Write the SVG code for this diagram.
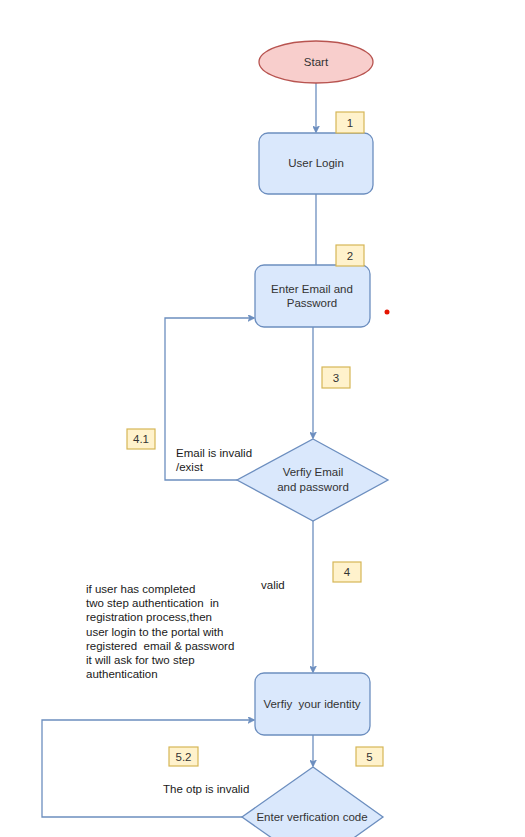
<svg xmlns="http://www.w3.org/2000/svg" width="525" height="837" viewBox="0 0 525 837">
  <style>
    text { font-family: "Liberation Sans", Arial, Helvetica, sans-serif; font-size: 11.5px; fill: #1a1a1a; white-space: pre; }
    .c { text-anchor: middle; fill: #333333; }
    .proc { fill: #dae8fc; stroke: #6c8ebf; stroke-width: 1.3; }
    .term { fill: #f8cecc; stroke: #b85450; stroke-width: 1.3; }
    .tag { fill: #fff2cc; stroke: #d6b656; stroke-width: 1.2; }
    .edge { fill: none; stroke: #6c8ebf; stroke-width: 1.3; }
  </style>
  <defs>
    <marker id="arrow" viewBox="0 0 10 10" refX="9" refY="5" markerWidth="7" markerHeight="7" orient="auto" markerUnits="userSpaceOnUse">
      <path d="M0,0 L10,5 L0,10 L3,5 Z" fill="#6c8ebf" stroke="#6c8ebf" stroke-width="1"/>
    </marker>
  </defs>
  <rect width="525" height="837" fill="#ffffff"/>

  <g id="connectors">
    <path class="edge" d="M316,83 L316,132" marker-end="url(#arrow)"/>
    <path class="edge" d="M316,194 L316,265"/>
    <path class="edge" d="M313,327 L313,438" marker-end="url(#arrow)"/>
    <path class="edge" d="M237,480 L165,480 L165,318 L254,318" marker-end="url(#arrow)"/>
    <path class="edge" d="M313,521 L313,672" marker-end="url(#arrow)"/>
    <path class="edge" d="M313,735 L313,766" marker-end="url(#arrow)"/>
    <path class="edge" d="M242,817 L42,817 L42,720 L254,720" marker-end="url(#arrow)"/>
  </g>

  <g id="start">
    <ellipse class="term" cx="316" cy="62" rx="57" ry="21"/>
    <text class="c" x="316" y="66">Start</text>
  </g>

  <g id="user-login">
    <rect class="proc" x="259" y="133" width="114" height="61" rx="9"/>
    <text class="c" x="316" y="167">User Login</text>
  </g>

  <g id="enter-email">
    <rect class="proc" x="255" y="265" width="115" height="62" rx="9"/>
    <text class="c" x="312" y="293">Enter Email and</text>
    <text class="c" x="312" y="307">Password</text>
  </g>

  <g id="verify-email">
    <polygon class="proc" points="313,439 388,480 313,521 237,480"/>
    <text class="c" x="313" y="476">Verfiy Email</text>
    <text class="c" x="313" y="491">and password</text>
  </g>

  <g id="verify-identity">
    <rect class="proc" x="255" y="673" width="115" height="62" rx="9"/>
    <text class="c" x="312" y="708">Verfiy  your identity</text>
  </g>

  <g id="enter-code">
    <polygon class="proc" points="313,767 383,817 313,867 242,817"/>
    <text class="c" x="312" y="821">Enter verfication code</text>
  </g>

  <g id="step-1">
    <rect class="tag" x="336" y="112" width="28" height="21"/>
    <text class="c" x="350" y="127">1</text>
  </g>
  <g id="step-2">
    <rect class="tag" x="336" y="245" width="28" height="21"/>
    <text class="c" x="350" y="260">2</text>
  </g>
  <g id="step-3">
    <rect class="tag" x="322" y="367" width="28" height="21"/>
    <text class="c" x="336" y="382">3</text>
  </g>
  <g id="step-4-1">
    <rect class="tag" x="127" y="429" width="28" height="20"/>
    <text class="c" x="141" y="443">4.1</text>
  </g>
  <g id="step-4">
    <rect class="tag" x="333" y="562" width="28" height="20"/>
    <text class="c" x="347" y="576">4</text>
  </g>
  <g id="step-5-2">
    <rect class="tag" x="169" y="747" width="29" height="19"/>
    <text class="c" x="183.5" y="761">5.2</text>
  </g>
  <g id="step-5">
    <rect class="tag" x="356" y="747" width="27" height="19"/>
    <text class="c" x="369.5" y="761">5</text>
  </g>

  <g id="edge-labels">
    <text x="176" y="457">Email is invalid</text>
    <text x="176" y="471">/exist</text>
    <text x="261" y="589">valid</text>
    <text x="163" y="793">The otp is invalid</text>
  </g>

  <g id="note">
    <text x="86" y="593">if user has completed</text>
    <text x="86" y="607">two step authentication  in</text>
    <text x="86" y="621">registration process,then</text>
    <text x="86" y="636">user login to the portal with</text>
    <text x="86" y="650">registered  email &amp; password</text>
    <text x="86" y="664">it will ask for two step</text>
    <text x="86" y="678">authentication</text>
  </g>

  <circle cx="387" cy="312" r="2.5" fill="#e51400"/>
</svg>
